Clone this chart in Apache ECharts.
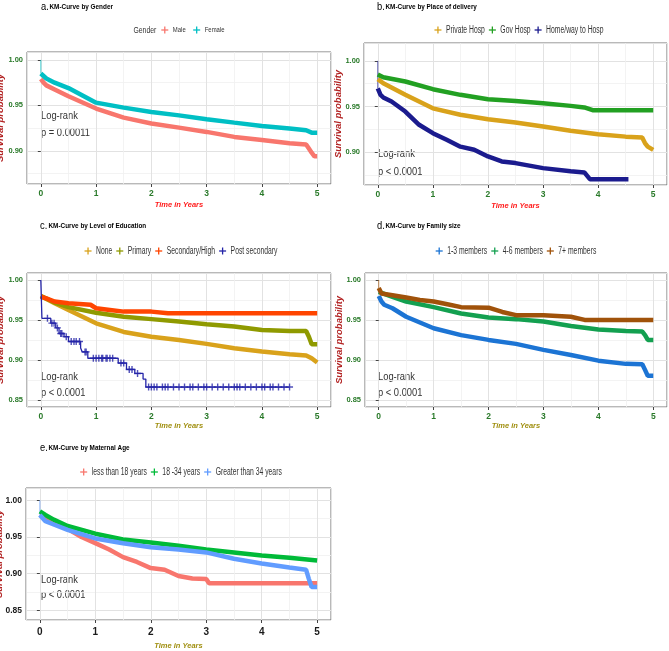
<!DOCTYPE html>
<html><head><meta charset="utf-8">
<script src="https://cdn.jsdelivr.net/npm/echarts@6/dist/echarts.min.js"></script>
<style>html,body{margin:0;padding:0;background:#fff}#c{width:669px;height:651px}</style>
</head><body><div id="c"></div>
<script>
const FONT = "'Liberation Sans',Arial,sans-serif";

// ---------- Data ----------
const startSurvival = 1.0;
// a. Gender
const aMaleT   = [0,0.05,0.1,0.25,0.5,1,1.5,2,2.5,3,3.5,4,4.5,4.8,4.85,4.9,4.95,5];
const aMaleS   = [0.979,0.975,0.972,0.9675,0.960,0.9465,0.9365,0.930,0.9255,0.9208,0.9153,0.912,0.9084,0.907,0.9025,0.898,0.894,0.894];
const aFemaleT = [0,0.1,0.25,0.5,1,1.5,2,2.5,3,3.5,4,4.5,4.8,4.9,5];
const aFemaleS = [0.985,0.9796,0.975,0.969,0.953,0.9475,0.9427,0.939,0.9347,0.931,0.9274,0.9245,0.9226,0.920,0.920];
// b. Place of delivery
const bPrivT = [0,0.1,0.5,1,1.5,2,2.5,3,3.5,4,4.5,4.8,4.85,4.9,5];
const bPrivS = [0.98,0.9755,0.9628,0.948,0.941,0.936,0.9325,0.928,0.9234,0.9197,0.917,0.916,0.91,0.906,0.9025];
const bGovT  = [0,0.1,0.5,1,1.5,2,2.5,3,3.5,3.75,3.9,5];
const bGovS  = [0.985,0.982,0.9774,0.969,0.9628,0.958,0.956,0.9536,0.9507,0.949,0.946,0.946];
const bHomeT = [0,0.05,0.1,0.25,0.5,0.75,1,1.25,1.5,1.75,2,2.25,2.5,3,3.5,3.75,3.85,4.55];
const bHomeS = [0.970,0.9628,0.960,0.9555,0.9445,0.930,0.9208,0.9135,0.906,0.9026,0.8953,0.8898,0.888,0.8825,0.879,0.8778,0.8704,0.8704];
// c. Level of education
const cNoneT = [0,0.25,0.5,1,1.5,2,2.5,3,3.5,4,4.5,4.8,4.9,5];
const cNoneS = [0.98,0.971,0.9625,0.9458,0.935,0.929,0.925,0.92,0.9146,0.9104,0.907,0.9054,0.902,0.8967];
const cPrimT = [0,0.25,0.5,1,1.5,2,2.5,3,3.5,4,4.5,4.8,4.85,4.9,5];
const cPrimS = [0.98,0.9717,0.966,0.959,0.954,0.951,0.948,0.9446,0.9417,0.9375,0.936,0.936,0.929,0.9196,0.9196];
const cSecT  = [0,0.1,0.25,0.5,0.9,1,1.25,1.5,2,2.3,5];
const cSecS  = [0.979,0.977,0.973,0.971,0.969,0.9646,0.9625,0.9604,0.9604,0.9583,0.9583];
const cPostT = [0,0.02,0.18,0.27,0.33,0.42,0.5,0.72,0.75,0.85,1.4,1.55,1.7,1.85,1.9,4.5];
const cPostS = [1.0,0.952,0.946,0.940,0.933,0.929,0.923,0.915,0.910,0.902,0.896,0.888,0.883,0.876,0.866,0.866];
const cPostCensor = [0.12,0.2,0.24,0.3,0.36,0.38,0.46,0.55,0.6,0.64,0.7,0.8,0.82,0.95,1.0,1.05,1.1,1.12,1.18,1.2,1.25,1.3,1.45,1.5,1.6,1.65,1.75,1.95,2.0,2.05,2.1,2.2,2.25,2.3,2.4,2.5,2.6,2.7,2.75,2.85,2.95,3.0,3.1,3.2,3.3,3.4,3.5,3.55,3.6,3.7,3.8,3.9,4.0,4.05,4.15,4.2,4.3,4.4,4.5];
// d. Family size
const dSmallT = [0,0.05,0.1,0.25,0.5,1,1.5,2,2.5,3,3.5,4,4.5,4.8,4.85,4.9,5];
const dSmallS = [0.98,0.973,0.969,0.9646,0.954,0.9396,0.931,0.925,0.92,0.9125,0.906,0.899,0.895,0.8946,0.8875,0.88,0.88];
const dMidT   = [0,0.25,0.5,1,1.5,2,2.5,3,3.5,4,4.5,4.8,4.85,4.9,5];
const dMidS   = [0.985,0.979,0.973,0.966,0.958,0.953,0.951,0.948,0.9425,0.938,0.936,0.9354,0.931,0.925,0.925];
const dBigT   = [0,0.05,0.25,0.5,0.75,1,1.25,1.5,2,2.25,2.5,3,3.5,3.75,5];
const dBigS   = [0.99,0.983,0.981,0.978,0.975,0.973,0.9696,0.966,0.9654,0.960,0.956,0.956,0.954,0.95,0.95];
// e. Maternal age
const eYoungT = [0,0.25,0.5,0.75,1,1.25,1.5,1.75,2,2.25,2.5,2.75,3,3.05,5];
const eYoungS = [0.98,0.9706,0.961,0.95,0.9417,0.933,0.9226,0.916,0.9077,0.9055,0.897,0.8936,0.8928,0.8872,0.8872];
const eMidT   = [0,0.1,0.25,0.5,1,1.5,2,2.5,3,3.5,4,4.5,5];
const eMidS   = [0.985,0.98,0.9736,0.965,0.9545,0.9466,0.9425,0.938,0.933,0.929,0.9247,0.9217,0.918];
const eOldT   = [0,0.1,0.25,0.5,1,1.5,2,2.5,3,3.5,4,4.5,4.8,4.85,4.9,5];
const eOldS   = [0.98,0.9715,0.967,0.9596,0.948,0.9415,0.936,0.933,0.929,0.9204,0.914,0.9085,0.9055,0.893,0.882,0.882];

const xTicks = [0,1,2,3,4,5];

// ---------- Helpers ----------
const zip = (T,S) => T.map((t,i)=>[t,S[i]]);
const stepAt = (T,S,t) => { let v=S[0]; for(let i=0;i<T.length;i++){ if(T[i]<=t) v=S[i]; } return v; };
const PLUS = 'path://M4,0h2v4h4v2h-4v4h-2v-4h-4v-2h4z';
const mctx = document.createElement('canvas').getContext('2d');
const textW = (txt, font) => { mctx.font = font; return mctx.measureText(txt).width; };

const panels = [
  { key:'a', title:'KM-Curve by Gender', tx:41, ty:7,
    grid:{left:27,top:52,width:304,height:132}, y:[0.8635,1.0087],
    legendTitle:'Gender', lcx:179, lty:30, lfs:7, lsx:0.85, lgap:7.5,
    xNameColor:'#FF1A1A', xGap:17, yGap:22,
    logrank:['Log-rank','p = 0.00011'], lx:41, ly:[116,133],
    series:[
      {name:'Male', T:aMaleT, S:aMaleS, color:'#F8766D'},
      {name:'Female', T:aFemaleT, S:aFemaleS, color:'#00BFC4', spike:true}
    ]},
  { key:'b', title:'KM-Curve by Place of delivery', tx:377, ty:7,
    grid:{left:364,top:43,width:303,height:142}, y:[0.864,1.0196],
    lcx:519, lty:30, lfs:10, lsx:0.68, lgap:4,
    xNameColor:'#FF1A1A', xGap:17, yGap:21,
    logrank:['Log-rank','p < 0.0001'], lx:378, ly:[154,172],
    series:[
      {name:'Private Hosp', T:bPrivT, S:bPrivS, color:'#D9A21B'},
      {name:'Gov Hosp', T:bGovT, S:bGovS, color:'#22A022'},
      {name:'Home/way to Hosp', T:bHomeT, S:bHomeS, color:'#1B1B8E', spike:true}
    ]},
  { key:'c', title:'KM-Curve by Level of Education', tx:40, ty:226,
    grid:{left:27,top:273,width:304,height:134}, y:[0.841,1.00875],
    lcx:181, lty:251, lfs:10, lsx:0.68, lgap:4,
    xNameColor:'#A08F10', xGap:15, yGap:22,
    logrank:['Log-rank','p < 0.0001'], lx:41, ly:[377,393],
    series:[
      {name:'None', T:cNoneT, S:cNoneS, color:'#D9A21B'},
      {name:'Primary', T:cPrimT, S:cPrimS, color:'#8F9A00'},
      {name:'Secondary/High', T:cSecT, S:cSecS, color:'#FF4500'},
      {name:'Post secondary', T:cPostT, S:cPostS, color:'#2424A8', thin:true, censor:cPostCensor}
    ]},
  { key:'d', title:'KM-Curve by Family size', tx:377, ty:226,
    grid:{left:365,top:273,width:302,height:134}, y:[0.841,1.00875],
    lcx:516, lty:251, lfs:10, lsx:0.68, lgap:4,
    xNameColor:'#A08F10', xGap:15, yGap:21,
    logrank:['Log-rank','p < 0.0001'], lx:378, ly:[377,393],
    series:[
      {name:'1-3 members', T:dSmallT, S:dSmallS, color:'#1C74D4'},
      {name:'4-6 members', T:dMidT, S:dMidS, color:'#13A050'},
      {name:'7+ members', T:dBigT, S:dBigS, color:'#A0520A', spike:true}
    ]},
  { key:'e', title:'KM-Curve by Maternal Age', tx:40, ty:448, big:true,
    grid:{left:26,top:488,width:305,height:132}, y:[0.837,1.0167],
    lcx:181, lty:472, lfs:10, lsx:0.68, lgap:4,
    xNameColor:'#A08F10', xGap:22, yGap:21.5,
    logrank:['Log-rank','p < 0.0001'], lx:41, ly:[580,595],
    series:[
      {name:'less than 18 years', T:eYoungT, S:eYoungS, color:'#F8766D'},
      {name:'18 -34 years', T:eMidT, S:eMidS, color:'#00BA38'},
      {name:'Greater than 34 years', T:eOldT, S:eOldS, color:'#619CFF', spike:true}
    ]}
];

const option = {
  animation:false, backgroundColor:'#fff',
  grid:[], xAxis:[], yAxis:[], series:[], graphic:[]
};

const squishText = (txt, x, y, font, fill, sx) => ({
  type:'text', x:x, y:y, scaleX:sx, silent:true,
  style:{text:txt, font:font, fill:fill, verticalAlign:'middle', align:'left'}
});

panels.forEach((p, gi) => {
  // panel title
  option.graphic.push(squishText(p.key+'.', p.tx, p.ty, '11px '+FONT, '#000', 0.85));
  option.graphic.push(squishText(p.title, p.tx+8.5, p.ty, 'bold 7.5px '+FONT, '#000', 0.85));

  option.grid.push(Object.assign({show:true, borderColor:'#737373', borderWidth:1, backgroundColor:'#fff',
    containLabel:false, outerBoundsMode:'none'}, p.grid));
  const tickColor = p.big ? '#1a1a1a' : '#2A7A2A';
  option.xAxis.push({
    type:'value', gridIndex:gi, min:-0.25, max:5.25, minInterval:1, maxInterval:1,
    name:'Time in Years', nameLocation:'middle', nameGap:p.xGap, nameMoveOverlap:false,
    nameTextStyle:{color:p.xNameColor, fontStyle:'italic', fontWeight:'bold', fontSize:7.5, fontFamily:FONT},
    axisLine:{show:false},
    axisTick:{show:true, length:3, lineStyle:{color:'#444'}},
    axisLabel:{showMinLabel:false, showMaxLabel:false, color:tickColor, fontWeight:'bold',
      fontSize:p.big?10:8.5, fontFamily:FONT, margin:p.big?7:5,
      formatter:v => xTicks.includes(v) ? String(v) : ''},
    splitLine:{show:true, lineStyle:{color:'#e2e2e2', width:1}},
    minorSplitLine:{show:true, lineStyle:{color:'#f0f0f0', width:0.8}},
    minorTick:{show:false, splitNumber:2}
  });
  option.yAxis.push({
    type:'value', gridIndex:gi, min:p.y[0], max:p.y[1], minInterval:0.05, maxInterval:0.05,
    name:'Survival probability', nameLocation:'middle', nameGap:p.yGap, nameMoveOverlap:false,
    nameTextStyle:{color:'#B22222', fontStyle:'italic', fontWeight:'bold', fontSize:9.5, fontFamily:FONT},
    axisLine:{show:false},
    axisTick:{show:true, length:3, lineStyle:{color:'#444'}},
    axisLabel:{showMinLabel:false, showMaxLabel:false, color:tickColor, fontWeight:'bold',
      fontSize:p.big?8.5:7.5, fontFamily:FONT, margin:4, formatter:v => v.toFixed(2)},
    splitLine:{show:true, lineStyle:{color:'#e2e2e2', width:1}},
    minorSplitLine:{show:true, lineStyle:{color:'#f0f0f0', width:0.8}},
    minorTick:{show:false, splitNumber:2}
  });

  // legend (ggplot style, centred over the panel), built from the series list
  const lf = p.lfs+'px '+FONT;
  const ICON = 7, ICONGAP = 4.5;
  const items = p.series.map(s => ({name:s.name, color:s.color, w:textW(s.name, lf)*p.lsx}));
  let total = items.reduce((a,it)=>a+ICON+ICONGAP+it.w,0) + p.lgap*(items.length-1);
  let titleW = 0;
  const tf = '9.5px '+FONT, tsx = 0.72;
  if (p.legendTitle) titleW = textW(p.legendTitle, tf)*tsx + 5;
  let x = p.lcx - (total+titleW)/2;
  if (p.legendTitle) {
    option.graphic.push(squishText(p.legendTitle, x, p.lty, tf, '#333', tsx));
    x += titleW;
  }
  items.forEach(it => {
    const cx = x + ICON/2;
    option.graphic.push({type:'line', silent:true, shape:{x1:cx-ICON/2, y1:p.lty, x2:cx+ICON/2, y2:p.lty}, style:{stroke:it.color, lineWidth:1.3}});
    option.graphic.push({type:'line', silent:true, shape:{x1:cx, y1:p.lty-ICON/2, x2:cx, y2:p.lty+ICON/2}, style:{stroke:it.color, lineWidth:1.3}});
    option.graphic.push(squishText(it.name, x+ICON+ICONGAP, p.lty, lf, '#333', p.lsx));
    x += ICON + ICONGAP + it.w + p.lgap;
  });

  p.logrank.forEach((txt, k) => {
    option.graphic.push(squishText(txt, p.lx, p.ly[k], '11px '+FONT, '#333', 0.85));
  });
  p.series.forEach(s => {
    option.series.push({
      name:s.name, type:'line', xAxisIndex:gi, yAxisIndex:gi,
      data:zip(s.T, s.S), step:s.thin ? 'end' : false,
      showSymbol:false, symbol:'none', color:s.color,
      lineStyle:{color:s.color, width:s.thin?1.3:4.5}, clip:true
    });
    if (s.spike) {
      option.series.push({
        name:s.name, type:'line', xAxisIndex:gi, yAxisIndex:gi,
        data:[[0,startSurvival],[0,s.S[0]]], showSymbol:false, symbol:'none', color:s.color,
        lineStyle:{color:s.color, width:1, opacity:0.7}, z:1
      });
    }
    if (s.censor) {
      option.series.push({
        name:s.name, type:'scatter', xAxisIndex:gi, yAxisIndex:gi,
        data:s.censor.map(t=>[t, stepAt(s.T, s.S, t)]),
        symbol:PLUS, symbolSize:7, itemStyle:{color:s.color}
      });
    }
  });
});

const chart = echarts.init(document.getElementById('c'), null, {renderer:'canvas'});
chart.setOption(option);
</script></body></html>
